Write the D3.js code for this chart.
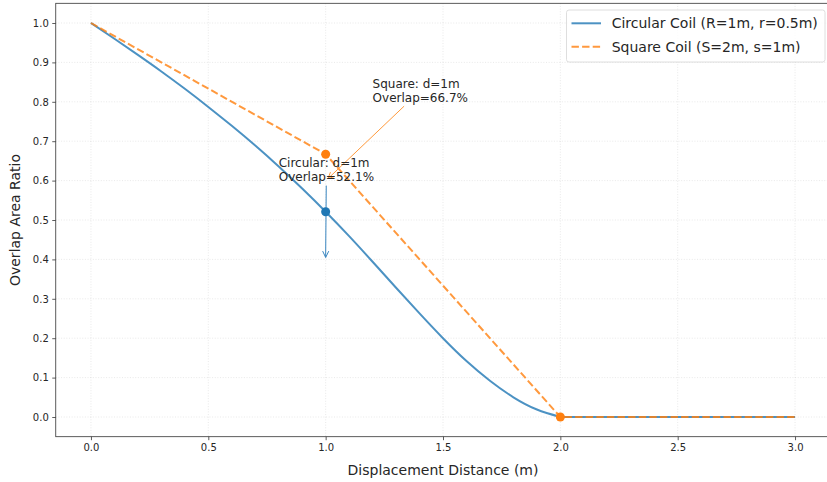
<!DOCTYPE html>
<html>
<head>
<meta charset="utf-8">
<script src="https://cdn.jsdelivr.net/npm/d3@7"></script>
<style>
  body { margin: 0; background: #fff; }
  svg text { font-family: "DejaVu Sans", sans-serif; fill: #262626; }
</style>
</head>
<body>
<div id="svg-container"></div>
<script>
/// DATA

const circDist = [0, 0.1, 0.2, 0.3, 0.4, 0.5, 0.6, 0.7, 0.8, 0.9, 1.0,
  1.1, 1.2, 1.3, 1.4, 1.5, 1.6, 1.7, 1.8, 1.9, 2.0, 2.5, 3.0]
const circRatio = [1.0, 0.960, 0.919, 0.877, 0.833, 0.787, 0.739, 0.689, 0.636, 0.580, 0.521,
  0.459, 0.394, 0.328, 0.263, 0.200, 0.142, 0.092, 0.050, 0.019, 0.0, 0.0, 0.0]

const squareDist = [0, 1, 2, 3]
const squareRatio = [1.0, 0.667, 0.0, 0.0]

const xTicks = [0, 0.5, 1, 1.5, 2, 2.5, 3]
const yTicks = [0, 0.1, 0.2, 0.3, 0.4, 0.5, 0.6, 0.7, 0.8, 0.9, 1.0]

const seriesNames = ["Circular Coil (R=1m, r=0.5m)", "Square Coil (S=2m, s=1m)"]

const circPoint = { d: 1, v: 0.521, label: ["Circular: d=1m", "Overlap=52.1%"], text: [0.8, 0.6], tip: [1, 0.405] }
const squarePoint = { d: 1, v: 0.667, label: ["Square: d=1m", "Overlap=66.7%"], text: [1.2, 0.8], tip: [1.01, 0.605] }
const squareEnd = { d: 2, v: 0 }

const width = 827
const height = 482

const margins = { top: 3.3, right: -3.25, bottom: 45.3, left: 55.75 }

/// SCALES

const xScale = d3.scaleLinear()
  .domain([-0.15, 3.15])
  .range([margins.left, width - margins.right])

const yScale = d3.scaleLinear()
  .domain([-0.05, 1.05])
  .range([height - margins.bottom, margins.top])

const blue = "#1f77b4"
const orange = "#ff7f0e"

const svg = d3.select("#svg-container")
  .append("svg")
  .attr("width", width)
  .attr("height", height)

svg.append("defs").append("clipPath").attr("id", "clip")
  .append("rect")
  .attr("x", margins.left).attr("y", margins.top)
  .attr("width", width - margins.right - margins.left)
  .attr("height", height - margins.bottom - margins.top)

// GRID

const grid = svg.append("g").attr("clip-path", "url(#clip)")
grid.selectAll(".gx").data(xTicks).join("line")
  .attr("x1", (d) => xScale(d)).attr("x2", (d) => xScale(d))
  .attr("y1", margins.top).attr("y2", height - margins.bottom)
  .attr("stroke", "#b0b0b0").attr("stroke-opacity", 0.35)
  .attr("stroke-dasharray", "1,1.65").attr("stroke-width", 0.8)
grid.selectAll(".gy").data(yTicks).join("line")
  .attr("y1", (d) => yScale(d)).attr("y2", (d) => yScale(d))
  .attr("x1", margins.left).attr("x2", width - margins.right)
  .attr("stroke", "#b0b0b0").attr("stroke-opacity", 0.35)
  .attr("stroke-dasharray", "1,1.65").attr("stroke-width", 0.8)

// AXES

const xAxis = svg.append("g")
  .attr("transform", `translate(0,${height - margins.bottom})`)
  .call(d3.axisBottom(xScale).tickValues(xTicks).tickFormat(d3.format(".1f")).tickSizeInner(3.5).tickSizeOuter(0).tickPadding(3.5))
const yAxis = svg.append("g")
  .attr("transform", `translate(${margins.left},0)`)
  .call(d3.axisLeft(yScale).tickValues(yTicks).tickFormat(d3.format(".1f")).tickSizeInner(3.5).tickSizeOuter(0).tickPadding(3.5))

;[xAxis, yAxis].forEach((a) => {
  a.select(".domain").remove()
  a.selectAll(".tick line").attr("stroke", "#333").attr("stroke-width", 0.8)
  a.selectAll(".tick text").style("font-size", "10px").style("font-family", "DejaVu Sans").attr("fill", "#262626")
})

// frame
svg.append("rect")
  .attr("x", margins.left).attr("y", margins.top)
  .attr("width", width - margins.right - margins.left)
  .attr("height", height - margins.bottom - margins.top)
  .attr("fill", "none").attr("stroke", "#333").attr("stroke-width", 0.8)

svg.append("text")
  .attr("x", xScale(1.5)).attr("y", 474.5)
  .attr("text-anchor", "middle")
  .style("font-size", "14px")
  .text("Displacement Distance (m)")

svg.append("text")
  .attr("transform", `translate(20,${yScale(0.5)}) rotate(-90)`)
  .attr("text-anchor", "middle")
  .style("font-size", "14px")
  .text("Overlap Area Ratio")

//// LINES

const circPairs = circDist.map((d, i) => [d, circRatio[i]])
const curvePart = circPairs.filter((d) => d[0] <= 2)
const flatPart = circPairs.filter((d) => d[0] >= 2)

const plot = svg.append("g").attr("clip-path", "url(#clip)")

const circPath = d3.line()
  .x((d) => xScale(d[0]))
  .y((d) => yScale(d[1]))
  .curve(d3.curveNatural)(curvePart) +
  d3.line().x((d) => xScale(d[0])).y((d) => yScale(d[1]))(flatPart).replace(/^M/, "L")

plot.append("path")
  .attr("d", circPath)
  .attr("fill", "none")
  .attr("stroke", blue).attr("stroke-opacity", 0.8)
  .attr("stroke-width", 2)
  .attr("stroke-linejoin", "round")

plot.append("path")
  .datum(squareDist.map((d, i) => [d, squareRatio[i]]))
  .attr("d", d3.line().x((d) => xScale(d[0])).y((d) => yScale(d[1])))
  .attr("fill", "none")
  .attr("stroke", orange).attr("stroke-opacity", 0.8)
  .attr("stroke-width", 2)
  .attr("stroke-dasharray", "7.4,3.2")

// ANNOTATIONS

const annotate = function (p, color) {
  const g = svg.append("g")
  const t = g.append("text")
    .attr("x", xScale(p.text[0])).attr("y", yScale(p.text[1]))
    .style("font-size", "12px")
  t.append("tspan").attr("x", xScale(p.text[0])).attr("dy", -14).text(p.label[0])
  t.append("tspan").attr("x", xScale(p.text[0])).attr("dy", 14).text(p.label[1])
  const b = t.node().getBBox()
  const cx = b.x + b.width / 2
  const cy = b.y + b.height / 2
  const tx = xScale(p.tip[0])
  const ty = yScale(p.tip[1])
  // clip line at bbox edge
  const dx = tx - cx
  const dy = ty - cy
  const s = Math.min(
    dx !== 0 ? (b.width / 2) / Math.abs(dx) : Infinity,
    dy !== 0 ? (b.height / 2) / Math.abs(dy) : Infinity
  )
  const len = Math.hypot(dx, dy)
  const sx = cx + dx * s + (dx / len) * 2
  const sy = cy + dy * s + (dy / len) * 2
  g.insert("line", "text")
    .attr("x1", sx).attr("y1", sy).attr("x2", tx).attr("y2", ty)
    .attr("stroke", color).attr("stroke-width", 1)
  const ang = Math.atan2(dy, dx)
  const hl = 7
  const hw = 0.45
  g.insert("path", "text")
    .attr("d", `M${tx - hl * Math.cos(ang - hw)},${ty - hl * Math.sin(ang - hw)}L${tx},${ty}L${tx - hl * Math.cos(ang + hw)},${ty - hl * Math.sin(ang + hw)}`)
    .attr("fill", "none").attr("stroke", color).attr("stroke-width", 1)
}

annotate(squarePoint, "#ff9a3c")
annotate(circPoint, "#3a86c0")

// markers
const pts = [
  { d: circPoint.d, v: circPoint.v, c: blue },
  { d: squarePoint.d, v: squarePoint.v, c: orange },
  { d: squareEnd.d, v: squareEnd.v, c: orange },
]
svg.selectAll(".pt").data(pts).join("circle")
  .attr("cx", (d) => xScale(d.d)).attr("cy", (d) => yScale(d.v))
  .attr("r", 4.5)
  .attr("fill", (d) => d.c)

///////////////////////// LEGEND ///////////////

const legend = svg.append("g").attr("transform", "translate(566.5,10)")
legend.append("rect")
  .attr("width", 258.5).attr("height", 52).attr("rx", 2.5)
  .attr("fill", "#fff").attr("fill-opacity", 0.8)
  .attr("stroke", "#d6d6d6").attr("stroke-width", 0.8)

seriesNames.forEach((name, i) => {
  const y = 13.3 + i * 23.4
  legend.append("line")
    .attr("x1", 5).attr("x2", 34.5).attr("y1", y).attr("y2", y)
    .attr("stroke", i === 0 ? blue : orange).attr("stroke-opacity", 0.8)
    .attr("stroke-width", 2)
    .attr("stroke-dasharray", i === 0 ? null : "7.4,3.2")
  legend.append("text")
    .attr("x", 45.2).attr("y", y + 5)
    .style("font-size", "14px")
    .text(name)
})
</script>
</body>
</html>
